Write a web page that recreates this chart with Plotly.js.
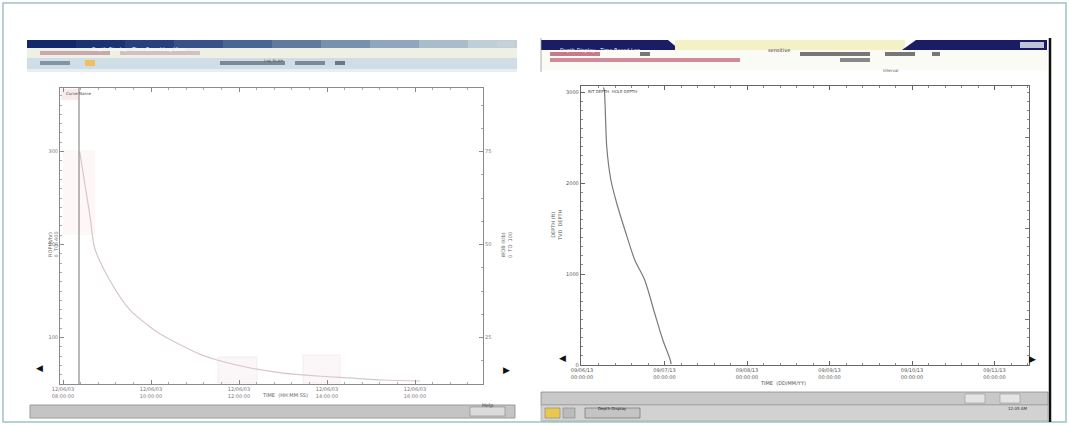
<!DOCTYPE html>
<html><head><meta charset="utf-8">
<script src="https://cdn.plot.ly/plotly-3.0.1.min.js"></script>
<style>html,body{margin:0;padding:0;background:#fff}#chart{width:1069px;height:425px}</style>
</head><body><div id="chart"></div>
<script>
// ---- data ----
const leftTime  = [0.19,0.25,0.31,0.36,0.53,0.76,0.99,1.10,1.36,1.56,1.75,2.13,2.50,2.89,3.26,3.64,4.06];
const leftValue = [2495,2140,1785,1462,1118,796,613,540,408,318,258,172,118,86,65,43,32];
const rightTime  = [0.26,0.27,0.30,0.35,0.42,0.52,0.64,0.76,0.88,0.98,1.07,1.08];
const rightDepth = [3050,3022,2396,2033,1780,1484,1154,934,571,275,55,10];
const leftXTicks = [0,1,2,3,4];
const leftXLabels = ["12/06/03<br>08:00:00","12/06/03<br>10:00:00","12/06/03<br>12:00:00","12/06/03<br>14:00:00","12/06/03<br>16:00:00"];
const leftYTicks = [500,1500,2500];
const leftYLabels = ["100","200","300"];
const leftY2Labels = ["25","50","75"];
const rightXTicks = [0,1,2,3,4,5];
const rightXLabels = ["09/06/13<br>00:00:00","09/07/13<br>00:00:00","09/08/13<br>00:00:00","09/09/13<br>00:00:00","09/10/13<br>00:00:00","09/11/13<br>00:00:00"];
const rightYTicks = [0,1000,2000,3000];
const rightYLabels = ["0","1000","2000","3000"];

const W = 1069, H = 425;
const px = x => x / W, py = y => 1 - y / H;

const tickFont = {family:"DejaVu Sans", size:5, color:"#777"};

const traces = [
  {x:leftTime, y:leftValue, xaxis:"x", yaxis:"y", mode:"lines", line:{color:"#d6c6ca", width:1.2, shape:"spline", smoothing:0.8}, hoverinfo:"skip"},
  {x:rightTime, y:rightDepth, xaxis:"x2", yaxis:"y2", mode:"lines", line:{color:"#7a7a7a", width:1.2, shape:"spline", smoothing:0.8}, hoverinfo:"skip"}
];

const shapes = [];
const rect = (x0,y0,x1,y1,fill,line,lw) => shapes.push({type:"rect", xref:"paper", yref:"paper", x0:px(x0), x1:px(x1), y0:py(y1), y1:py(y0), fillcolor:fill, line:{color:line||fill, width:lw===undefined?0:lw}, layer:"below"});
const lineP = (x0,y0,x1,y1,color,w) => shapes.push({type:"line", xref:"paper", yref:"paper", x0:px(x0), x1:px(x1), y0:py(y0), y1:py(y1), line:{color:color, width:w}});

// outer frame
rect(3,3,1066,422,"rgba(0,0,0,0)","#9fc2c6",1.5);

// ---- left window chrome ----
const grad = ["#13286a","#1b3274","#27407f","#375289","#4a6594","#5f799f","#7690ad","#8fa6bc","#a8bcca","#bfcfd8"];
for (let i=0;i<grad.length;i++){ rect(27+i*49,40,27+(i+1)*49,48,grad[i]); }
rect(497,41,514,47,"#c8d0d8");
rect(27,48,517,58,"#eef0e4");
rect(27,58,517,69,"#cfdde6");
rect(27,69,517,72,"#e8eef2");
rect(220,61,285,65,"#7c8a96"); rect(295,61,325,65,"#7c8a96"); rect(335,61,345,65,"#6c7a86");
rect(40,61,70,65,"#8494a4"); rect(85,60,95,66,"#f0c060");
rect(40,51,110,55,"#c9a8b0"); rect(120,51,200,55,"#d0c0c8");
// faint pink regions in the left plot
rect(61,89,79,100,"rgba(240,205,205,0.4)");
rect(63,150,95,235,"rgba(245,220,220,0.22)");
rect(218,357,257,383,"rgba(240,225,228,0.25)","#efe4e6",0.6);
rect(303,355,340,383,"rgba(240,225,228,0.25)","#efe4e6",0.6);
// inner vertical line in left plot
lineP(79,88,79,384,"#8a8a8a",1.2);
// bottom status bar left
rect(30,405,515,418,"#c4c4c4","#9a9a9a",1);
rect(470,407,505,416,"#dcdcdc","#888",0.6);

// ---- right window chrome ----
shapes.push({type:"path", xref:"paper", yref:"paper", path:`M ${px(541)},${py(40)} L ${px(668)},${py(40)} L ${px(680)},${py(50)} L ${px(541)},${py(50)} Z`, fillcolor:"#1a1c64", line:{width:0}, layer:"below"});
rect(675,40,905,50,"#f3f1c6");
shapes.push({type:"path", xref:"paper", yref:"paper", path:`M ${px(902)},${py(50)} L ${px(916)},${py(40)} L ${px(1047)},${py(40)} L ${px(1047)},${py(50)} Z`, fillcolor:"#1a1c64", line:{width:0}, layer:"below"});
rect(1020,42,1044,48,"#c0c4d8");
rect(541,50,1047,70,"#fbfbf6");
rect(550,52,600,56,"#c87a8a"); rect(640,52,650,56,"#777"); rect(800,52,870,56,"#777"); rect(885,52,915,56,"#777"); rect(932,52,940,56,"#777");
rect(550,58,740,62,"#d08a98"); rect(840,58,870,62,"#888");
lineP(1050,38,1050,422,"#111",2.5);
lineP(541,38,541,72,"#999",0.8);
rect(541,392,1048,405,"#c8c8c8","#8a8a8a",0.8);
rect(541,405,1048,421,"#d2d2d2","#9a9a9a",0.6);
rect(965,394,985,403,"#e4e4e4","#888",0.5);
rect(1000,394,1020,403,"#e4e4e4","#888",0.5);
rect(545,408,560,418,"#e8c850","#777",0.5);
rect(563,408,575,418,"#bbb","#777",0.5);
rect(585,408,640,418,"#c4c4c4","#666",0.6);

const ann = [];
const txt = (x,y,t,opt) => ann.push(Object.assign({xref:"paper", yref:"paper", x:px(x), y:py(y), text:t, showarrow:false, font:{family:"DejaVu Sans", size:5, color:"#555"}}, opt||{}));
txt(90,44,"Depth Display - Time Based Log View",{font:{family:"DejaVu Sans",size:5,color:"#fff"}});
txt(600,45,"Depth Display - Time Based Log",{font:{family:"DejaVu Sans",size:5,color:"#fff"}});
txt(792,45,"sensitive",{font:{family:"DejaVu Sans",size:5,color:"#333"}});
txt(262,56,"Log Scale",{font:{family:"DejaVu Sans",size:4,color:"#555"}});
txt(900,66,"Interval",{font:{family:"DejaVu Sans",size:4,color:"#555"}});
// plot corner labels
txt(64,88.5,"Curve Name",{font:{family:"DejaVu Sans",size:4,color:"#444"}, yanchor:"top", xanchor:"left"});
txt(586,87.5,"BIT DEPTH  HOLE DEPTH",{font:{family:"DejaVu Sans",size:4,color:"#444"}, yanchor:"top", xanchor:"left"});
// axis titles
txt(45,245,"ROP(ft/hr)<br>0  TO  400",{textangle:-90, font:{family:"DejaVu Sans",size:5,color:"#666"}});
txt(507,245,"WOB (klb)<br>0  TO  100",{textangle:-90, font:{family:"DejaVu Sans",size:5,color:"#666"}});
txt(260,400,"TIME  (HH:MM:SS)",{font:{family:"DejaVu Sans",size:5,color:"#666"}});
txt(556,225,"DEPTH (ft)<br>TVD  DEPTH",{textangle:-90, font:{family:"DejaVu Sans",size:5,color:"#555"}});
txt(808,388,"TIME  (DD/MM/YY)",{font:{family:"DejaVu Sans",size:5,color:"#555"}});
txt(487,411,"Help",{font:{family:"DejaVu Sans",size:5,color:"#444"}});
txt(612,413,"Depth Display",{font:{family:"DejaVu Sans",size:4,color:"#222"}});
txt(1030,413,"12:05 AM",{font:{family:"DejaVu Sans",size:4,color:"#333"}});
// arrows
txt(34,375,"◀",{font:{family:"DejaVu Sans",size:9,color:"#111"}});
txt(506,377,"▶",{font:{family:"DejaVu Sans",size:9,color:"#111"}});
txt(562,365,"◀",{font:{family:"DejaVu Sans",size:9,color:"#111"}});
txt(1038,366,"▶",{font:{family:"DejaVu Sans",size:9,color:"#111"}});

const lx = (p) => (p-63)/88;
const rx = (p) => (p-582)/82.5;

const layout = {
  width:W, height:H, margin:{l:0,r:0,t:0,b:0}, paper_bgcolor:"#fff", plot_bgcolor:"rgba(0,0,0,0)",
  showlegend:false, shapes:shapes, annotations:ann,
  xaxis:{domain:[px(60),px(483)], range:[lx(60),lx(483)], tickvals:leftXTicks, ticktext:leftXLabels, tickfont:tickFont,
         showline:true, linecolor:"#8a8a8a", linewidth:1, mirror:"ticks", ticks:"inside", ticklen:4, tickcolor:"#8a8a8a",
         minor:{dtick:0.2, ticklen:2, tickcolor:"#aaa", ticks:"inside"}, showgrid:false, zeroline:false, anchor:"y", fixedrange:true},
  yaxis:{domain:[py(384),py(88)], range:[0,(384-88)/93*1000], tickvals:leftYTicks, ticktext:leftYLabels, tickfont:tickFont,
         showline:true, linecolor:"#8a8a8a", linewidth:1, ticks:"inside", ticklen:4, tickcolor:"#8a8a8a",
         minor:{dtick:100, ticklen:2, tickcolor:"#aaa", ticks:"inside"}, showgrid:false, zeroline:false, anchor:"x", fixedrange:true},
  yaxis3:{overlaying:"y", side:"right", anchor:"x", range:[0,(384-88)/93*1000], tickvals:leftYTicks, ticktext:leftY2Labels, tickfont:tickFont,
         showline:true, linecolor:"#8a8a8a", linewidth:1, ticks:"inside", ticklen:4, tickcolor:"#8a8a8a",
         minor:{dtick:250, ticklen:2, tickcolor:"#aaa", ticks:"inside"}, showgrid:false, zeroline:false, fixedrange:true},
  xaxis2:{domain:[px(581),px(1029)], range:[rx(581),rx(1029)], tickvals:rightXTicks, ticktext:rightXLabels, tickfont:{family:"DejaVu Sans",size:5,color:"#555"},
         showline:true, linecolor:"#666", linewidth:1.2, mirror:"ticks", ticks:"inside", ticklen:4, tickcolor:"#666",
         minor:{dtick:0.2, ticklen:2, tickcolor:"#888", ticks:"inside"}, showgrid:false, zeroline:false, anchor:"y2", fixedrange:true},
  yaxis2:{domain:[py(365),py(86)], range:[0,(365-86)/91*1000], tickvals:rightYTicks, ticktext:rightYLabels, tickfont:{family:"DejaVu Sans",size:5,color:"#555"},
         showline:true, linecolor:"#666", linewidth:1.2, ticks:"inside", ticklen:4, tickcolor:"#666",
         minor:{dtick:100, ticklen:2, tickcolor:"#888", ticks:"inside"}, showgrid:false, zeroline:false, anchor:"x2", fixedrange:true},
  yaxis4:{overlaying:"y2", side:"right", anchor:"x2", range:[0,(365-86)/91*1000], tickvals:[500,1500,2500], ticktext:["","",""], tickfont:tickFont,
         showline:true, linecolor:"#666", linewidth:1.2, ticks:"inside", ticklen:4, tickcolor:"#777",
         minor:{dtick:100, ticklen:2, tickcolor:"#888", ticks:"inside"}, showgrid:false, zeroline:false, fixedrange:true}
};
traces.push({x:[null], y:[null], xaxis:"x", yaxis:"y3", hoverinfo:"skip"});
traces.push({x:[null], y:[null], xaxis:"x2", yaxis:"y4", hoverinfo:"skip"});

Plotly.newPlot("chart", traces, layout, {displayModeBar:false, staticPlot:true});
</script></body></html>
